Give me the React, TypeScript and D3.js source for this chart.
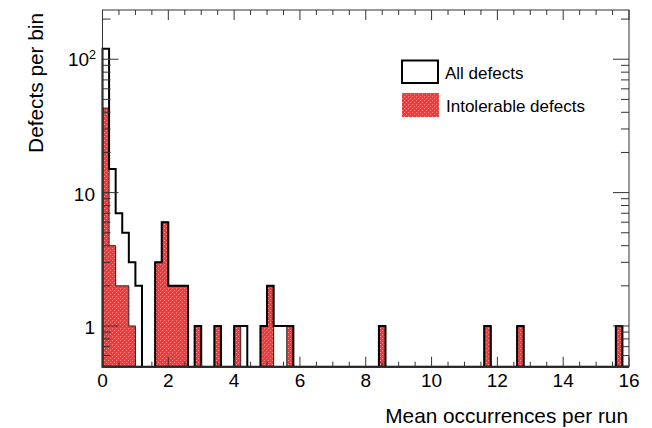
import React from "react";
import * as d3 from "d3";

// histogram bins are 0.2 wide, from 0 to 16
const binWidth = 0.2;

const allDefects = [
  120, 15, 7, 5, 3, 2, 0, 0, 3, 6,
  2, 2, 2, 0, 1, 0, 0, 1, 0, 0,
  1, 1, 0, 0, 1, 2, 1, 1, 1, 0,
  0, 0, 0, 0, 0, 0, 0, 0, 0, 0,
  0, 0, 1, 0, 0, 0, 0, 0, 0, 0,
  0, 0, 0, 0, 0, 0, 0, 0, 1, 0,
  0, 0, 0, 1, 0, 0, 0, 0, 0, 0,
  0, 0, 0, 0, 0, 0, 0, 0, 1, 0,
];

const intolerableDefects = [
  43, 4, 2, 2, 1, 0, 0, 0, 3, 6,
  2, 2, 2, 0, 1, 0, 0, 1, 0, 0,
  1, 0, 0, 0, 1, 2, 0, 0, 1, 0,
  0, 0, 0, 0, 0, 0, 0, 0, 0, 0,
  0, 0, 1, 0, 0, 0, 0, 0, 0, 0,
  0, 0, 0, 0, 0, 0, 0, 0, 1, 0,
  0, 0, 0, 1, 0, 0, 0, 0, 0, 0,
  0, 0, 0, 0, 0, 0, 0, 0, 1, 0,
];

const xTickLabels = ["0", "2", "4", "6", "8", "10", "12", "14", "16"];
const legendLabels = ["All defects", "Intolerable defects"];

const W = 652;
const H = 428;
const font = "'Liberation Sans', Arial, Helvetica, sans-serif";

export default function App() {
  const x = d3.scaleLinear().domain([0, 16]).range([102.5, 629]);
  const y = d3.scaleLog().domain([0.495, 234]).range([366.7, 10]);
  const base = y.range()[0];
  const top = y.range()[1];
  const left = x.range()[0];
  const right = x.range()[1];

  // ROOT-style step outline
  function stepPath(counts: number[]) {
    let d = `M${x(0)},${base}`;
    counts.forEach((c, i) => {
      const yy = c > 0 ? y(c) : base;
      d += `L${x(i * binWidth)},${yy}L${x((i + 1) * binWidth)},${yy}`;
    });
    d += `L${x(counts.length * binWidth)},${base}Z`;
    return d;
  }

  const xMinor = d3.range(0, 16.001, 0.5);
  const yTicks = y.ticks().filter((t) => t >= 0.495 && t <= 234);
  const isMajor = (t: number) => Math.abs(Math.log10(t) - Math.round(Math.log10(t))) < 1e-6;

  return (
    <svg width={W} height={H} style={{ position: "absolute", left: 0, top: 0, background: "#fff" }} fontFamily={font}>
      <defs>
        <pattern id="dots" width="4" height="4" patternUnits="userSpaceOnUse">
          <rect width="4" height="4" fill="#ff3434" />
          <rect x="0" y="0" width="1" height="1" fill="#ff8c8c" />
          <rect x="2" y="2" width="1" height="1" fill="#ff8c8c" />
        </pattern>
      </defs>

      {/* intolerable, filled */}
      <path d={stepPath(intolerableDefects)} fill="url(#dots)" stroke="#222" strokeWidth={1} />
      {/* all defects outline */}
      <path d={stepPath(allDefects)} fill="none" stroke="#000" strokeWidth={2} />

      {/* frame */}
      <rect x={left} y={top} width={right - left} height={base - top} fill="none" stroke="#333" strokeWidth={1} />

      {/* x ticks, bottom and top */}
      {xMinor.map((t) => {
        const major = Math.abs(t / 2 - Math.round(t / 2)) < 1e-6;
        const len = major ? 10 : 5;
        return (
          <g key={"x" + t} stroke="#333" strokeWidth={1}>
            <line x1={x(t)} x2={x(t)} y1={base} y2={base - len} />
            <line x1={x(t)} x2={x(t)} y1={top} y2={top + len} />
          </g>
        );
      })}

      {/* y ticks, left and right */}
      {yTicks.map((t) => {
        const len = isMajor(t) ? 16 : 8;
        return (
          <g key={"y" + t} stroke="#333" strokeWidth={1}>
            <line x1={left} x2={left + len} y1={y(t)} y2={y(t)} />
            <line x1={right} x2={right - len} y1={y(t)} y2={y(t)} />
          </g>
        );
      })}

      {/* x tick labels */}
      {xTickLabels.map((lab, i) => (
        <text key={lab} x={x(i * 2)} y={387} fontSize={19} textAnchor="middle" fill="#000">
          {lab}
        </text>
      ))}

      {/* y tick labels */}
      <text x={95} y={y(1) + 8.5} fontSize={19} textAnchor="end">1</text>
      <text x={95} y={y(10) + 8.5} fontSize={19} textAnchor="end">10</text>
      <text x={96} y={y(100) + 7} fontSize={19} textAnchor="end">
        10<tspan fontSize={12.5} dy={-7.5}>2</tspan>
      </text>

      {/* axis titles */}
      <text x={628} y={423} fontSize={20.8} textAnchor="end">Mean occurrences per run</text>
      <text transform="translate(43,13) rotate(-90)" fontSize={20.8} textAnchor="end">Defects per bin</text>

      {/* legend */}
      <rect x={402} y={60.5} width={36} height={22.5} fill="#fff" stroke="#000" strokeWidth={2} />
      <text x={445} y={79} fontSize={17}>{legendLabels[0]}</text>
      <rect x={402} y={93} width={37} height={24} fill="url(#dots)" />
      <text x={446} y={112} fontSize={17}>{legendLabels[1]}</text>
    </svg>
  );
}
